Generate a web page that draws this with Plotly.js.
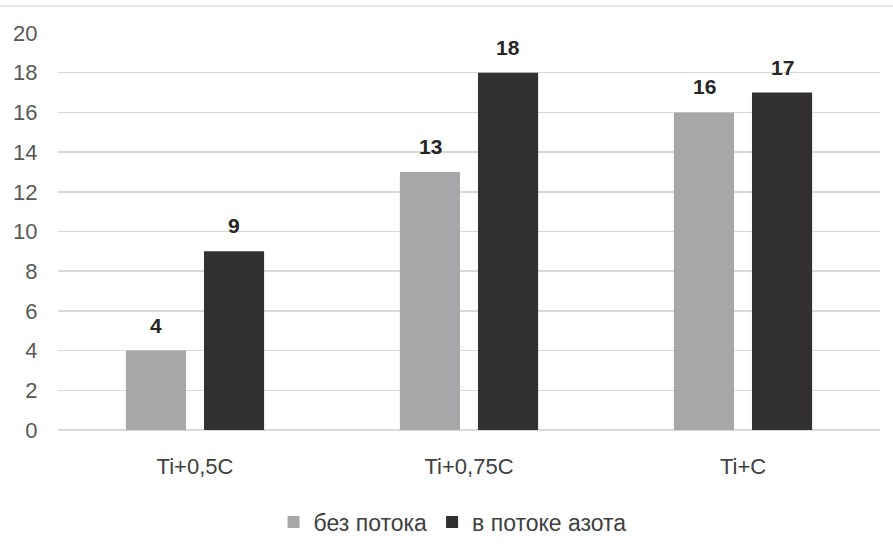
<!DOCTYPE html>
<html>
<head>
<meta charset="utf-8">
<script src="https://cdn.plot.ly/plotly-3.0.1.min.js"></script>
<style>html,body{margin:0;padding:0;background:#fff;}#chart{width:893px;height:555px;}</style>
</head>
<body>
<div id="chart"></div>
<script>
const categories = ["Ti+0,5C", "Ti+0,75C", "Ti+C"];
const seriesNames = ["без потока", "в потоке азота"];
const withoutFlow = [4, 13, 16];
const nitrogenFlow = [9, 18, 17];
const yTicks = [0, 2, 4, 6, 8, 10, 12, 14, 16, 18, 20];

const FONT = "'Liberation Sans', Arial, sans-serif";
const colors = ["#a7a7a9", "#323031"];
const seriesData = [withoutFlow, nitrogenFlow];
const shifts = [-39, 39];

const traces = seriesData.map((vals, i) => ({
  type: "bar",
  name: seriesNames[i],
  x: categories,
  y: vals,
  marker: {color: colors[i], line: {width: 0}},
  hoverinfo: "none"
}));

const annotations = [];
seriesData.forEach((vals, i) => {
  vals.forEach((v, j) => {
    annotations.push({
      x: categories[j], y: v, xref: "x", yref: "y",
      text: String(v), showarrow: false,
      xanchor: "center", yanchor: "bottom",
      xshift: shifts[i], yshift: 12,
      font: {family: FONT, size: 21, color: "#262626", weight: "bold"}
    });
  });
});

const layout = {
  width: 893, height: 555,
  margin: {l: 58, r: 13, t: 33, b: 124},
  paper_bgcolor: "#ffffff", plot_bgcolor: "#ffffff",
  barmode: "group", bargap: 0.43, bargroupgap: 0.23,
  showlegend: true,
  legend: {
    orientation: "h", x: 0.48, xanchor: "center", y: -0.229, yanchor: "middle",
    font: {family: FONT, size: 23, color: "#404040"},
    itemwidth: 30, itemsizing: "constant", traceorder: "normal"
  },
  xaxis: {
    type: "category", showgrid: false, zeroline: false, showline: false,
    ticks: "outside", ticklen: 17, tickcolor: "rgba(0,0,0,0)",
    tickfont: {family: FONT, size: 22, color: "#404040"}
  },
  yaxis: {
    range: [0, 20], tickvals: yTicks, ticktext: yTicks.map(String),
    showgrid: true, gridcolor: "#d9d9d9", gridwidth: 1.5,
    zeroline: true, zerolinecolor: "#d9d9d9", zerolinewidth: 1.5,
    showline: false, ticks: "outside", ticklen: 15, tickcolor: "rgba(0,0,0,0)",
    tickfont: {family: FONT, size: 22, color: "#595959"}
  },
  shapes: [{
    type: "line", xref: "paper", yref: "paper",
    x0: -58/822, x1: 1 + 13/822, y0: 1 + 27/398, y1: 1 + 27/398,
    line: {color: "#dcdcdc", width: 1.5}
  }],
  annotations: annotations
};

Plotly.newPlot("chart", traces, layout, {displayModeBar: false, staticPlot: true});
</script>
</body>
</html>
